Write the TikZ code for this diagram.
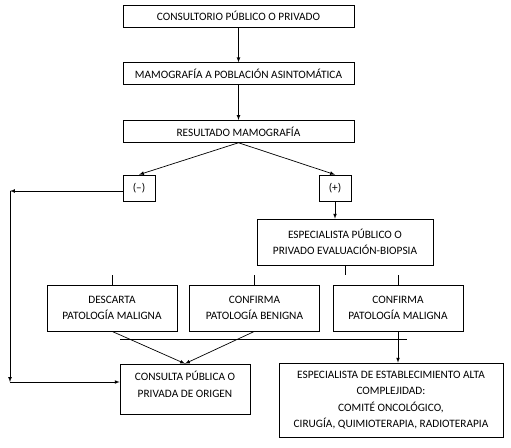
\documentclass[tikz,border=0pt]{standalone}
\usepackage{fontspec}
\setmainfont{Carlito}
\usepackage{tikz}
\usetikzlibrary{arrows,positioning,calc}

\begin{document}
\begin{tikzpicture}[
  x=1pt, y=-1pt,
  node distance=35pt,
  line width=0.7pt,
  box/.style={rectangle, draw, minimum width=231pt, minimum height=22pt, inner sep=2pt, font=\fontsize{11.3}{16.3}\selectfont, align=center},
  sign/.style={box, minimum width=32pt, minimum height=26pt},
  mid/.style={box, minimum width=130pt, minimum height=46pt},
  flow/.style={->, >=latex}
]
\useasboundingbox (0,0) rectangle (511,447);

\node[box] (consultorio) at (238.5,16) {CONSULTORIO PÚBLICO O PRIVADO};

\node[box, below=of consultorio] (mamografia) {MAMOGRAFÍA A POBLACIÓN ASINTOMÁTICA};
\draw[flow] (consultorio) -- (mamografia);

\node[box, below=of mamografia] (resultado) {RESULTADO MAMOGRAFÍA};
\draw[flow] (mamografia) -- (resultado);

\node[sign] (neg) at (139,188) {(--)};
\node[sign] (pos) at (335,188) {(+)};
\draw[flow] (resultado.south) -- (neg.north);
\draw[flow] (resultado.south) -- (pos.north);

% retorno por la izquierda
\coordinate (lt) at (10,191);
\coordinate (lb) at (10,382);

\node[mid, minimum width=176pt] (especialista) at (345,242) {ESPECIALISTA PÚBLICO O\\PRIVADO EVALUACIÓN-BIOPSIA};
\draw[flow] (pos.south) -- (pos.south |- especialista.north);

\node[mid] (descarta) at (112,308) {DESCARTA\\PATOLOGÍA MALIGNA};
\node[mid] (benigna) at (254.5,308) {CONFIRMA\\PATOLOGÍA BENIGNA};
\node[mid] (maligna) at (398,308) {CONFIRMA\\PATOLOGÍA MALIGNA};

\draw (especialista.south) -- ++(0,10);
\draw (descarta.north) -- ++(0,-10);
\draw (benigna.north) -- ++(0,-10);
\draw (maligna.north) -- ++(0,-10);

\node[box, minimum width=130pt, minimum height=50pt] (origen) at (185,389) {CONSULTA PÚBLICA O\\PRIVADA DE ORIGEN\\[-7pt]\mbox{}};
\node[box, minimum width=224pt, minimum height=74pt] (alta) at (391,400) {ESPECIALISTA DE ESTABLECIMIENTO ALTA\\COMPLEJIDAD:\\COMITÉ ONCOLÓGICO,\\CIRUGÍA, QUIMIOTERAPIA, RADIOTERAPIA};

\coordinate (hl) at (120,339);
\coordinate (hr) at (407,339);
\draw (hl) -- (hr);

\draw[flow] (neg.west |- lt) -- (lt);
\draw[flow] (lt) -- (lb);
\draw[flow] (lb) -- (lb -| origen.west);

\draw[flow] (descarta.south) -- (origen.north);
\draw[flow] (benigna.south) -- (origen.north);
\draw[flow] (maligna.south) -- (maligna.south |- alta.north);

\end{tikzpicture}
\end{document}
